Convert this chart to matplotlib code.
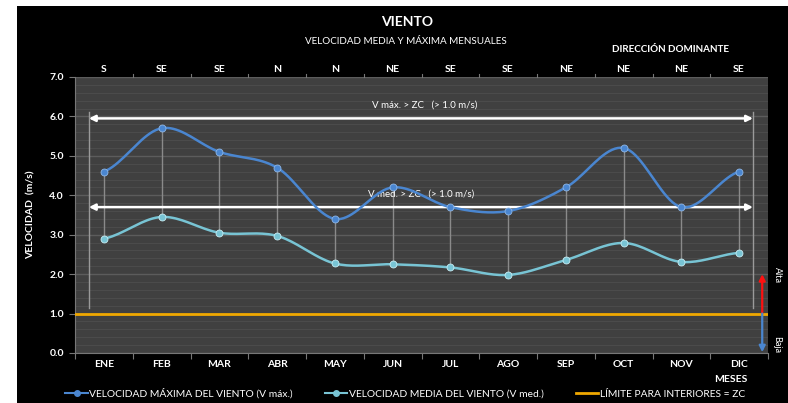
import numpy as np
import matplotlib
matplotlib.use("Agg")
import matplotlib.pyplot as plt
from matplotlib.lines import Line2D
from matplotlib.patches import Rectangle

plt.rcParams['font.family'] = ['Lato', 'DejaVu Sans']

# datos
meses = ["ENE", "FEB", "MAR", "ABR", "MAY", "JUN", "JUL", "AGO", "SEP", "OCT", "NOV", "DIC"]
direccion = ["S", "SE", "SE", "N", "N", "NE", "SE", "SE", "NE", "NE", "NE", "SE"]
v_max = [4.6, 5.7, 5.1, 4.7, 3.4, 4.2, 3.7, 3.6, 4.2, 5.2, 3.7, 4.6]
v_med = [2.9, 3.45, 3.05, 2.97, 2.27, 2.25, 2.17, 1.98, 2.36, 2.79, 2.31, 2.54]
zc = 1.0
nivel_max = 5.95   # flecha V max > ZC
nivel_med = 3.7    # flecha V med > ZC

c_max = "#4a86d0"
c_med = "#78c4d4"
c_zc = "#f0a800"


def suavizar(y, n=20):
    # curva tipo Catmull-Rom (como las lineas suavizadas de Excel)
    y = np.asarray(y, float)
    p = np.concatenate(([y[0]], y, [y[-1]]))
    xs, ys = [], []
    for i in range(len(y) - 1):
        p0, p1, p2, p3 = p[i], p[i + 1], p[i + 2], p[i + 3]
        t = np.linspace(0, 1, n, endpoint=False)
        yy = 0.5 * ((2 * p1) + (-p0 + p2) * t + (2 * p0 - 5 * p1 + 4 * p2 - p3) * t**2
                    + (-p0 + 3 * p1 - 3 * p2 + p3) * t**3)
        xs.append(i + t)
        ys.append(yy)
    xs.append([len(y) - 1])
    ys.append([y[-1]])
    return np.concatenate(xs), np.concatenate(ys)


fig = plt.figure(figsize=(7.88, 4.03), dpi=100)
fig.patch.set_facecolor("white")
fig.add_artist(Rectangle((17 / 788, 0), 1, (403 - 6) / 403, transform=fig.transFigure,
                         facecolor="black", edgecolor="none", zorder=-10))

ax = fig.add_axes([75 / 788, 50 / 403, 693 / 788, 276 / 403])
ax.set_facecolor("#404040")
x = np.arange(len(meses))

ax.set_xlim(-0.5, 11.5)
ax.set_ylim(0, 7)
ax.set_yticks(np.arange(0, 7.1, 1))
ax.set_yticks(np.arange(0, 7.01, 0.2), minor=True)
ax.yaxis.set_major_formatter(matplotlib.ticker.FormatStrFormatter("%.1f"))
ax.grid(axis="y", which="major", color="#5c5c5c", lw=1)
ax.grid(axis="y", which="minor", color="#4b4b4b", lw=0.8)
ax.set_axisbelow(True)

ax.set_xticks(np.arange(-0.5, 12, 1))
ax.set_xticklabels([])
ax.set_xticks(x, minor=True)
ax.set_xticklabels(meses, minor=True)
ax.tick_params(axis="x", which="minor", length=0, pad=5, labelsize=7.5, colors="white")
ax.tick_params(axis="x", which="major", length=4, color="#777777")
ax.tick_params(axis="y", which="major", length=4, color="#777777", labelsize=7.5,
               labelcolor="white", pad=4)
ax.tick_params(axis="y", which="minor", length=0)
for lab in ax.get_xticklabels(minor=True) + ax.get_yticklabels():
    lab.set_fontweight("bold")
for s in ["top", "right"]:
    ax.spines[s].set_visible(False)
ax.spines["left"].set_color("#777777")
ax.spines["bottom"].set_color("#777777")

# eje superior con direccion dominante
top = ax.secondary_xaxis("top")
top.set_xticks(x)
top.set_xticklabels(direccion)
top.tick_params(length=0, pad=2, labelsize=7.5, colors="white")
for lab in top.get_xticklabels():
    lab.set_fontweight("bold")
top.spines["top"].set_visible(False)
for xb in np.arange(0.5, 11, 1):
    ax.plot([xb, xb], [7.0, 7.08], color="#777777", lw=0.8, clip_on=False)

# lineas alta-baja
for i in x:
    ax.plot([i, i], [v_med[i], v_max[i]], color="#8a8a8a", lw=1, zorder=2)

# limites verticales y flechas
ax.plot([-0.26, -0.26], [1.15, 6.1], color="#9a9a9a", lw=1, zorder=2)
ax.plot([11.24, 11.24], [1.15, 6.1], color="#9a9a9a", lw=1, zorder=2)
for nivel in [nivel_max, nivel_med]:
    ax.annotate("", xy=(-0.26, nivel), xytext=(11.24, nivel),
                arrowprops=dict(arrowstyle="<|-|>", color="white", lw=1.8,
                                mutation_scale=9, shrinkA=0, shrinkB=0), zorder=3)
ax.text(5.55, nivel_max + 0.33, "V máx. > ZC   (> 1.0 m/s)", color="white", fontsize=7,
        ha="center", va="center")
ax.text(5.5, nivel_med + 0.33, "V med. > ZC   (> 1.0 m/s)", color="white", fontsize=7,
        ha="center", va="center")

# series suavizadas
xs, ys = suavizar(v_max)
ax.plot(xs, ys, color=c_max, lw=1.8, zorder=4)
ax.plot(x, v_max, "o", ms=5, color=c_max, mec="#8fb8e8", mew=0.6, zorder=5)
xs, ys = suavizar(v_med)
ax.plot(xs, ys, color=c_med, lw=1.8, zorder=4)
ax.plot(x, v_med, "o", ms=5, color=c_med, mec="#c8eef5", mew=0.6, zorder=5)

# limite para interiores
ax.axhline(zc, color=c_zc, lw=2, zorder=4)

# flechas alta / baja
ax.annotate("", xy=(11.4, 2.0), xytext=(11.4, zc),
            arrowprops=dict(arrowstyle="-|>", color="#ff1010", lw=1.6, mutation_scale=9,
                            shrinkA=0, shrinkB=0), annotation_clip=False, zorder=5)
ax.annotate("", xy=(11.4, 0.02), xytext=(11.4, zc),
            arrowprops=dict(arrowstyle="-|>", color="#4a86d0", lw=1.6, mutation_scale=9,
                            shrinkA=0, shrinkB=0), annotation_clip=False, zorder=5)
fig.text(777 / 788, 1 - 275 / 403, "Alta", color="white", fontsize=6.5, rotation=-90,
         ha="center", va="center")
fig.text(777 / 788, 1 - 345 / 403, "Baja", color="white", fontsize=6.5, rotation=-90,
         ha="center", va="center")

# titulos
fig.text(407 / 788, 1 - 22 / 403, "VIENTO", color="white", fontsize=10, fontweight="bold",
         ha="center", va="center")
fig.text(406 / 788, 1 - 41 / 403, "VELOCIDAD MEDIA Y MÁXIMA MENSUALES", color="white",
         fontsize=7.1, ha="center", va="center")
fig.text(670 / 788, 1 - 50 / 403, "DIRECCIÓN DOMINANTE", color="white", fontsize=7.1,
         fontweight="bold", ha="center", va="center")
fig.text(31 / 788, 1 - 215 / 403, "VELOCIDAD  (m/s)", color="white", fontsize=7.5,
         fontweight="bold", rotation=90, ha="center", va="center")
fig.text(731 / 788, 1 - 379 / 403, "MESES", color="white", fontsize=7.5,
         fontweight="bold", ha="center", va="center")

# leyenda
handles = [
    Line2D([], [], color=c_max, lw=1.5, marker="o", ms=4),
    Line2D([], [], color=c_med, lw=1.5, marker="o", ms=4),
    Line2D([], [], color=c_zc, lw=2),
]
labels = ["VELOCIDAD MÁXIMA DEL VIENTO (V máx.)", "VELOCIDAD MEDIA DEL VIENTO (V med.)",
          "LÍMITE PARA INTERIORES = ZC"]
leg = fig.legend(handles, labels, loc="lower left", bbox_to_anchor=(56 / 788, -0.012),
                 ncol=3, frameon=False, fontsize=7.4, labelcolor="white",
                 handlelength=2.2, handletextpad=0.15, columnspacing=3.1)

fig.savefig("out.png", dpi=100, facecolor=fig.get_facecolor())
